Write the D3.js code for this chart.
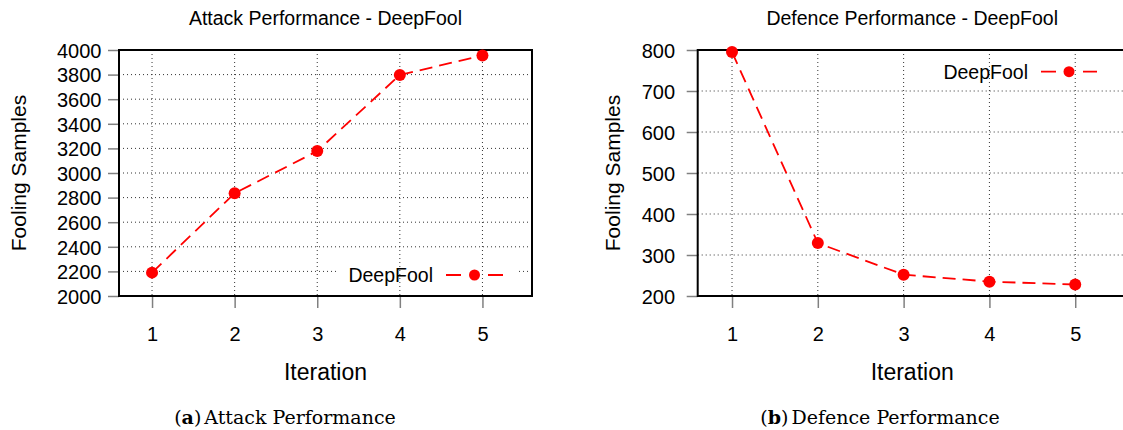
<!DOCTYPE html>
<html><head><meta charset="utf-8">
<script src="https://cdn.jsdelivr.net/npm/d3@7/dist/d3.min.js"></script>
<style>
body{margin:0;background:#fff;}
svg{display:block;}
text{font-family:"Liberation Sans",Arial,sans-serif;fill:#000;}
</style></head>
<body>
<svg id="c" width="1123" height="430"></svg>
<script>
// ---- data ----
const iterations = [1, 2, 3, 4, 5];
const attackValues = [2190, 2835, 3178, 3797, 3955];
const defenceValues = [795, 329, 252, 235, 228];
const attackYTicks = [2000, 2200, 2400, 2600, 2800, 3000, 3200, 3400, 3600, 3800, 4000];
const defenceYTicks = [200, 300, 400, 500, 600, 700, 800];
const xTicks = [1, 2, 3, 4, 5];
const seriesName = "DeepFool";
const titles = ["Attack Performance - DeepFool", "Defence Performance - DeepFool"];
const captionLetters = ["a", "b"];
const captionTexts = ["Attack Performance", "Defence Performance"];
const yLabel = "Fooling Samples";
const xLabel = "Iteration";

const svg = d3.select("#c");

const panels = [
  {values: attackValues, yTicks: attackYTicks, yDomain: [2000, 4000], left: 119, right: 532,
   labelPad: 6.6, yLabelX: 26, legend: {textEnd: 433, lineX0: 446, lineX1: 503, y: 275},
   title: titles[0], capLetter: captionLetters[0], capText: captionTexts[0], capX: 285},
  {values: defenceValues, yTicks: defenceYTicks, yDomain: [200, 800], left: 697.7, right: 1126.7,
   labelPad: 11.7, yLabelX: 620, legend: {textEnd: 1028, lineX0: 1041, lineX1: 1097, y: 71.7},
   title: titles[1], capLetter: captionLetters[1], capText: captionTexts[1], capX: 880}
];
const plotTop = 50, plotBottom = 296;

panels.forEach(p => {
  const x = d3.scaleLinear().domain([0.6, 5.6]).range([p.left, p.right]);
  const y = d3.scaleLinear().domain(p.yDomain).range([plotBottom, plotTop]);
  const g = svg.append("g");

  // horizontal grid
  g.append("g").selectAll("line").data(p.yTicks.filter(t => t !== p.yDomain[0] && t !== p.yDomain[1]))
    .join("line")
    .attr("x1", p.left).attr("x2", p.right)
    .attr("y1", d => y(d)).attr("y2", d => y(d))
    .attr("stroke", "#333").attr("stroke-width", 1).attr("stroke-dasharray", "1,3");

  // legend background (hides horizontal grid)
  const lg = p.legend;
  g.append("rect").attr("x", lg.textEnd - 96).attr("y", lg.y - 10)
    .attr("width", lg.lineX1 - lg.textEnd + 110).attr("height", 20).attr("fill", "#fff");

  // vertical grid
  g.append("g").selectAll("line").data(xTicks).join("line")
    .attr("x1", d => x(d)).attr("x2", d => x(d))
    .attr("y1", plotTop).attr("y2", plotBottom)
    .attr("stroke", "#333").attr("stroke-width", 1).attr("stroke-dasharray", "1,3");

  // y axis
  const ya = d3.axisLeft(y).tickValues(p.yTicks).tickSize(11).tickPadding(p.labelPad).tickFormat(d3.format("d"));
  const yg = g.append("g").attr("transform", `translate(${p.left},0)`).call(ya);
  yg.select(".domain").remove();
  yg.selectAll(".tick line").attr("stroke", "#808080").attr("stroke-width", 1.5);
  yg.selectAll(".tick text").attr("font-size", 20).attr("font-family", "Liberation Sans, Arial, sans-serif")
    .attr("fill", "#000").attr("dy", "0.36em");

  // x axis
  const xa = d3.axisBottom(x).tickValues(xTicks).tickSize(12).tickPadding(0).tickFormat(d3.format("d"));
  const xg = g.append("g").attr("transform", `translate(0,${plotBottom})`).call(xa);
  xg.select(".domain").remove();
  xg.selectAll(".tick line").attr("stroke", "#808080").attr("stroke-width", 1.5);
  xg.selectAll(".tick text").attr("font-size", 20).attr("font-family", "Liberation Sans, Arial, sans-serif")
    .attr("fill", "#000").attr("y", 45).attr("dy", 0);

  // frame
  g.append("rect").attr("x", p.left).attr("y", plotTop).attr("width", p.right - p.left).attr("height", plotBottom - plotTop)
    .attr("fill", "none").attr("stroke", "#000").attr("stroke-width", 2);

  // data line
  const line = d3.line().x((d, i) => x(iterations[i])).y(d => y(d));
  g.append("path").datum(p.values).attr("d", line)
    .attr("fill", "none").attr("stroke", "#ff0000").attr("stroke-width", 1.8).attr("stroke-dasharray", "13,7");
  g.append("g").selectAll("circle").data(p.values).join("circle")
    .attr("cx", (d, i) => x(iterations[i])).attr("cy", d => y(d)).attr("r", 6).attr("fill", "#ff0000");

  // legend
  g.append("text").attr("x", lg.textEnd).attr("y", lg.y + 7).attr("text-anchor", "end")
    .attr("font-size", 19.5).text(seriesName);
  g.append("line").attr("x1", lg.lineX0).attr("x2", lg.lineX1).attr("y1", lg.y).attr("y2", lg.y)
    .attr("stroke", "#ff0000").attr("stroke-width", 1.8).attr("stroke-dasharray", "15,27");
  g.append("circle").attr("cx", (lg.lineX0 + lg.lineX1) / 2).attr("cy", lg.y).attr("r", 5.5).attr("fill", "#ff0000");

  // title
  const cx = (p.left + p.right) / 2;
  g.append("text").attr("x", cx).attr("y", 25).attr("text-anchor", "middle").attr("font-size", 19.5).text(p.title);

  // axis labels
  g.append("text").attr("transform", `translate(${p.yLabelX},${(plotTop + plotBottom) / 2}) rotate(-90)`)
    .attr("text-anchor", "middle").attr("font-size", 21).text(yLabel);
  g.append("text").attr("x", cx).attr("y", 380).attr("text-anchor", "middle").attr("font-size", 23).text(xLabel);

  // caption
  const cap = g.append("text").attr("x", p.capX).attr("y", 424).attr("text-anchor", "middle")
    .style("font-family", "'DejaVu Serif', serif").attr("font-size", 19);
  cap.append("tspan").text("(");
  cap.append("tspan").attr("font-weight", "bold").text(p.capLetter);
  cap.append("tspan").text(")");
  cap.append("tspan").attr("dx", 3).text(p.capText);
});
</script>
</body></html>
